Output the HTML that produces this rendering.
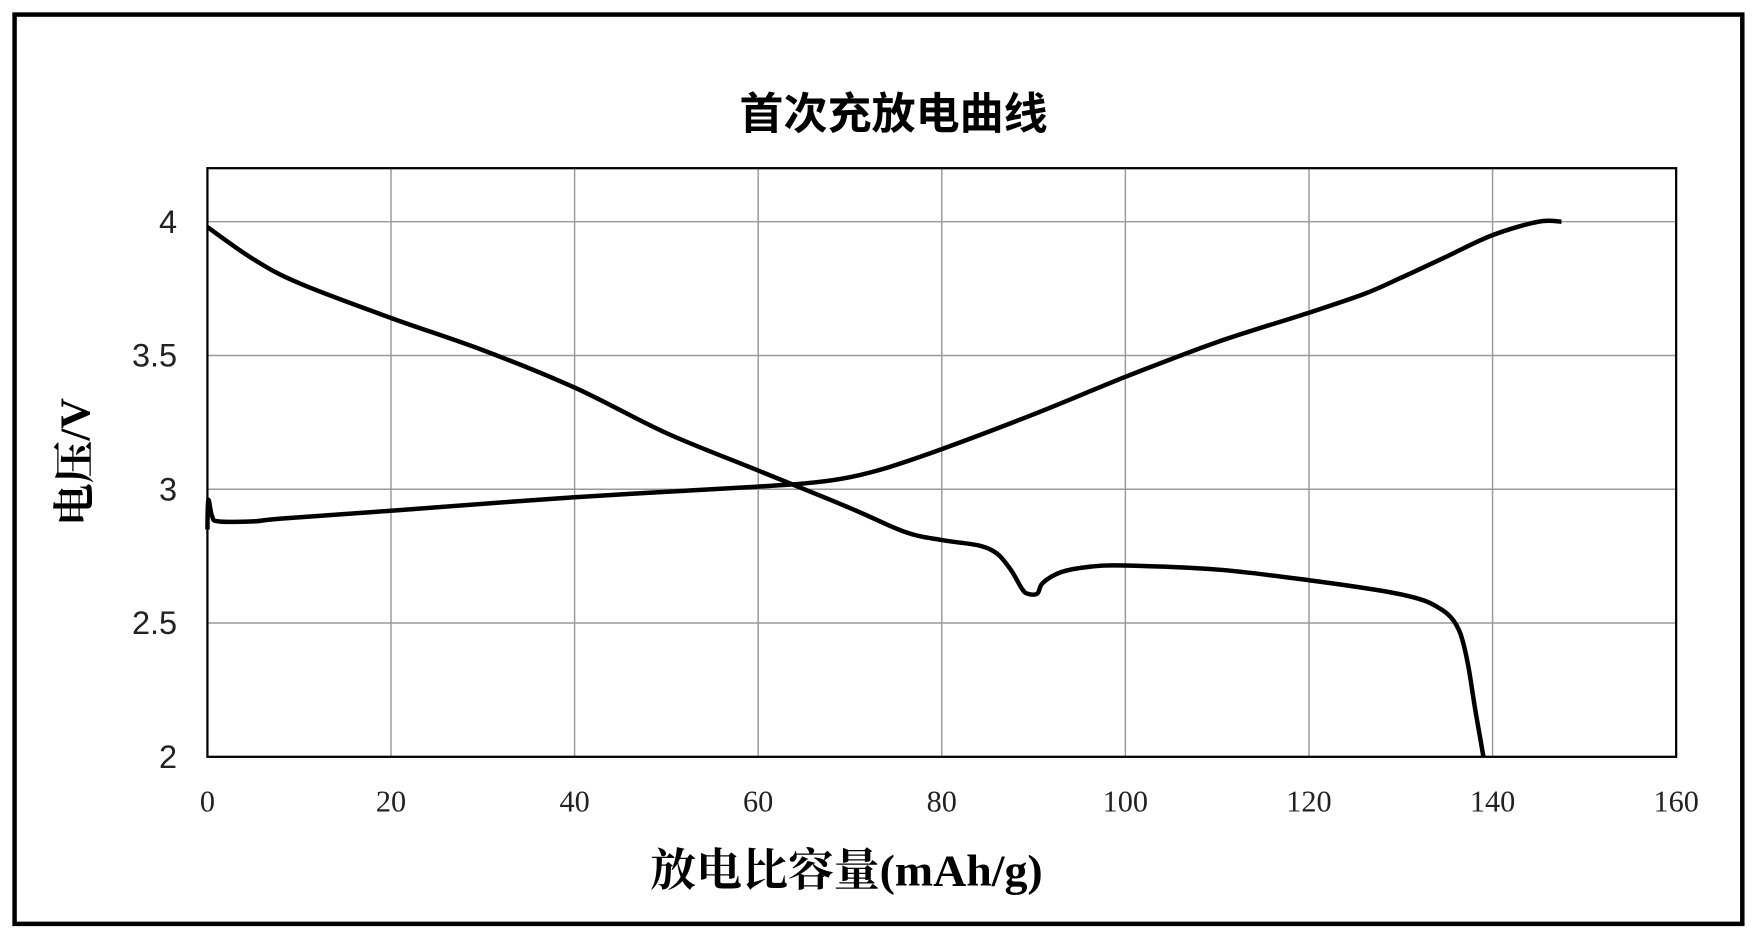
<!DOCTYPE html>
<html><head><meta charset="utf-8"><style>body{margin:0;background:#fff}svg{display:block}</style></head>
<body>
<svg width="1758" height="938" viewBox="0 0 1568 836.6" preserveAspectRatio="none" xmlns="http://www.w3.org/2000/svg">
<rect x="0" y="0" width="1568" height="836.6" fill="#fff"/>
<rect x="13" y="13" width="1541" height="811" fill="none" stroke="#000" stroke-width="4"/>
<text x="797" y="115" text-anchor="middle" font-family="'Liberation Sans','Noto Sans CJK SC',sans-serif" font-weight="bold" font-size="39" textLength="275" lengthAdjust="spacingAndGlyphs">首次充放电曲线</text>
<g id="grid" stroke="#999" stroke-width="1.3"></g>
<rect x="185" y="150" width="1310" height="525" fill="none" stroke="#000" stroke-width="2"/>
<g font-family="'Liberation Sans',sans-serif" font-size="29" fill="#222" text-anchor="end" id="yt"></g>
<g font-family="'Liberation Serif',serif" font-size="27" fill="#222" text-anchor="middle" id="xt"></g>
<text transform="translate(80,412) rotate(-90)" text-anchor="middle" font-family="'Liberation Serif','Noto Serif CJK SC',serif" font-weight="bold" font-size="38">电压/V</text>
<text x="755" y="790" text-anchor="middle" font-family="'Liberation Serif','Noto Serif CJK SC',serif" font-weight="bold" font-size="40" textLength="350" lengthAdjust="spacingAndGlyphs">放电比容量(mAh/g)</text>
<path id="c1" fill="none" stroke="#000" stroke-width="4" stroke-linejoin="round"/>
<path id="c2" fill="none" stroke="#000" stroke-width="4" stroke-linejoin="round"/>
</svg>
<script>
const X=v=>185+v*1310/160, Y=v=>675-(v-2)*(525/2.2);
const ns="http://www.w3.org/2000/svg";
let g=document.getElementById('grid'),yt=document.getElementById('yt'),xt=document.getElementById('xt');
for(let i=1;i<8;i++){let l=document.createElementNS(ns,'line');l.setAttribute('x1',X(i*20));l.setAttribute('x2',X(i*20));l.setAttribute('y1',150);l.setAttribute('y2',675);g.appendChild(l);}
for(let v of [2.5,3,3.5,4]){let l=document.createElementNS(ns,'line');l.setAttribute('x1',185);l.setAttribute('x2',1495);l.setAttribute('y1',Y(v));l.setAttribute('y2',Y(v));g.appendChild(l);}
for(let v of [2,2.5,3,3.5,4]){let t=document.createElementNS(ns,'text');t.setAttribute('x',158);t.setAttribute('y',Y(v)+10);t.textContent=v;yt.appendChild(t);}
for(let i=0;i<=8;i++){let t=document.createElementNS(ns,'text');t.setAttribute('x',X(i*20));t.setAttribute('y',724);t.textContent=i*20;xt.appendChild(t);}
const ch=[[0,2.85],[0.1,2.96],[0.5,2.9],[1.2,2.88],[5,2.88],[8,2.89],[20,2.92],[40,2.97],[60,3.01],[66,3.025],[70,3.045],[74,3.08],[80,3.15],[90,3.28],[100,3.42],[110,3.55],[120,3.66],[126,3.73],[130,3.79],[135,3.87],[140,3.95],[145,4.0],[147.5,4.0]];
const dc=[[0,3.98],[5,3.86],[10,3.77],[20,3.64],[30,3.52],[40,3.38],[50,3.21],[60,3.07],[70,2.93],[76,2.84],[80,2.81],[84,2.79],[86,2.76],[87.5,2.7],[88.7,2.63],[89.3,2.61],[90.4,2.61],[91,2.65],[93,2.69],[96,2.71],[100,2.715],[110,2.70],[120,2.66],[128,2.62],[132,2.59],[134,2.56],[135.5,2.52],[136.5,2.46],[137.3,2.35],[138,2.2],[138.6,2.08],[139,2.0]];
function p(a){const P=a.map(q=>[X(q[0]),Y(q[1])]);let d='M'+P[0][0].toFixed(1)+','+P[0][1].toFixed(1);
for(let i=0;i<P.length-1;i++){const p0=P[Math.max(0,i-1)],p1=P[i],p2=P[i+1],p3=P[Math.min(P.length-1,i+2)];
const c1=[p1[0]+(p2[0]-p0[0])/6,p1[1]+(p2[1]-p0[1])/6],c2=[p2[0]-(p3[0]-p1[0])/6,p2[1]-(p3[1]-p1[1])/6];
d+='C'+c1.map(v=>v.toFixed(1))+' '+c2.map(v=>v.toFixed(1))+' '+p2.map(v=>v.toFixed(1));}return d;}
document.getElementById('c1').setAttribute('d',p(ch));
document.getElementById('c2').setAttribute('d',p(dc));
</script>
</body></html>
